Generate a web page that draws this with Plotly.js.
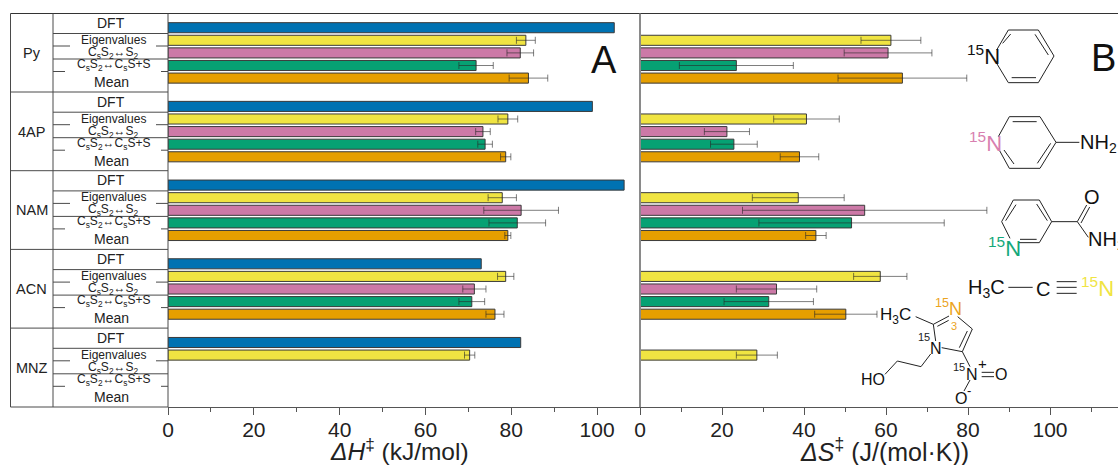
<!DOCTYPE html>
<html><head><meta charset="utf-8">
<script src="https://cdn.plot.ly/plotly-3.0.1.min.js"></script>
<style>html,body{margin:0;padding:0;background:#fff}#c{width:1118px;height:465px}</style></head>
<body><div id="c"></div>
<script>
const groups = ['Py','4AP','NAM','ACN','MNZ'];
const methods = ['DFT','Eigenvalues','C<sub>s</sub>S<sub>2</sub>↔S<sub>2</sub>','C<sub>s</sub>S<sub>2</sub>↔C<sub>s</sub>S+S','Mean'];
const colors = ['#0072b2','#f0e442','#cc79a7','#06a173','#e69f00'];

const enthalpyDFT = [104.0, 98.9, 106.3, 73.0, 82.2];
const enthalpyEig = [83.4, 79.2, 77.9, 78.7, 70.3];
const enthalpyS2  = [82.1, 73.4, 82.3, 71.4, null];
const enthalpyS   = [71.8, 73.9, 81.4, 70.8, null];
const enthalpyMean= [84.0, 78.7, 79.2, 76.2, null];
const enthalpyEigErr = [2.2, 2.3, 3.3, 1.9, 1.2];
const enthalpyS2Err  = [3.1, 1.7, 8.7, 2.7, null];
const enthalpySErr   = [4.0, 1.7, 6.6, 3.0, null];
const enthalpyMeanErr= [4.5, 1.2, 0.7, 2.1, null];

const entropyEig = [61.2, 40.6, 38.6, 58.6, 28.5];
const entropyS2  = [60.5, 21.2, 54.8, 33.3, null];
const entropyS   = [23.5, 22.9, 51.6, 31.4, null];
const entropyMean= [64.0, 38.9, 42.9, 50.2, null];
const entropyEigErr = [7.3, 8.0, 11.2, 6.5, 5.0];
const entropyS2Err  = [10.7, 5.5, 29.8, 9.8, null];
const entropySErr   = [13.9, 5.7, 22.6, 10.9, null];
const entropyMeanErr= [15.7, 4.7, 2.5, 7.6, null];

const W=1118,H=465,T=14,B=407,PANEL=640,LEFT=168;
const ROW=12.6, PERIOD=78.7/12.6, Y0=27.7;
const font='"Liberation Sans", Arial, sans-serif';
const yOf=r=>groups.map((_,g)=>g*PERIOD+r);
const px=x=>x/W, py=y=>(B-y)/(B-T);

function bar(vals,errs,m,second){
  const t={type:'bar',orientation:'h',x:vals,y:yOf(m),width:0.8,name:methods[m],showlegend:false,
    marker:{color:colors[m],line:{color:'#3a3a3a',width:1}},hoverinfo:'x'};
  if(errs) t.error_x={type:'data',array:errs,visible:true,color:'rgba(40,40,40,0.6)',thickness:1,width:3.5};
  if(second){t.xaxis='x2';t.yaxis='y';}
  return t;
}
const data=[
  bar(enthalpyDFT,null,0,false),
  bar(enthalpyEig,enthalpyEigErr,1,false),
  bar(enthalpyS2,enthalpyS2Err,2,false),
  bar(enthalpyS,enthalpySErr,3,false),
  bar(enthalpyMean,enthalpyMeanErr,4,false),
  bar(entropyEig,entropyEigErr,1,true),
  bar(entropyS2,entropyS2Err,2,true),
  bar(entropyS,entropySErr,3,true),
  bar(entropyMean,entropyMeanErr,4,true)
];

const shapes=[], annotations=[];
function seg(x0,y0,x1,y1,color,width){
  shapes.push({type:'line',xref:'paper',yref:'paper',x0:px(x0),y0:py(y0),x1:px(x1),y1:py(y1),
    line:{color:color||'#222',width:width||1},layer:'above'});
}
function txt(x,y,text,size,color,extra){
  annotations.push(Object.assign({xref:'paper',yref:'paper',x:px(x),y:py(y),text:text,showarrow:false,
    xanchor:'center',yanchor:'middle',font:{family:font,size:size,color:color||'#222'}},extra||{}));
}
const lineC='#4a4a4a';
seg(10.5,13.5,1118,13.5,'#333',1.2);
seg(10.5,13.5,10.5,407,lineC);
seg(53,13.5,53,407,lineC);
seg(168,13.5,168,407,lineC);
seg(PANEL,13.5,PANEL,407,'#8a8a8a',2);
seg(10.5,407,168,407,lineC);
groups.forEach((name,g)=>{
  const o=g*78.7;
  txt(31.5,53+o,name,14.5,'#222');
  if(g<4) seg(10.5,92+o,168,92+o,lineC);
  seg(53,33.5+o,168,33.5+o,lineC);
  seg(53,46+o,70,46+o,lineC); seg(156,46+o,168,46+o,lineC);
  seg(53,59+o,168,59+o,lineC);
  seg(53,71.5+o,65,71.5+o,lineC); seg(161,71.5+o,168,71.5+o,lineC);
  txt(111,23+o,methods[0],14);
  txt(113,40+o,methods[1],12);
  txt(113,53+o,methods[2],12);
  txt(113,65+o,methods[3],12);
  txt(111,82+o,methods[4],14);
});
txt(604,60,'A',38,'#111');
txt(1103,58,'B',38,'#111');
txt(399,450,'<i>ΔH</i><sup>‡</sup> (kJ/mol)',24.5,'#222');
txt(884,450,'<i>ΔS</i><sup>‡</sup> (J/(mol·K))',25,'#222');

const a=(x,y)=>[820+x/3,y/3], b=(x,y)=>[820+x/3,255+y/3];
function path(f,pts,c,w){for(let i=0;i<pts.length-1;i++){const p=f(...pts[i]),q=f(...pts[i+1]);seg(p[0],p[1],q[0],q[1],c||'#222',w||1);}}
function lab(f,x,y,t,s,c,extra){const p=f(x,y);txt(p[0],p[1],t,s,c,extra);}
const pink='#d87fb0',green='#14a87a',yellow='#f0e442',orange='#eba41e';
path(a,[[530,150],[565,90],[655,90],[702,168],[655,248],[565,248],[530,190]]);
path(a,[[548,130],[572,102]]);path(a,[[645,103],[685,165]]);path(a,[[575,233],[648,233]]);
lab(a,490,165,'<sup>15</sup>N',22,'#111');
path(a,[[535,410],[568,350],[660,350],[708,427],[660,505],[568,505],[535,445]]);
path(a,[[578,365],[650,365]]);path(a,[[652,490],[692,430]]);path(a,[[552,450],[582,492]]);
path(a,[[708,427],[778,427]]);
lab(a,497,427,'<sup>15</sup>N',22,pink);
lab(a,836,430,'NH<sub>2</sub>',20,'#111');
path(a,[[570,715],[545,665],[580,600],[658,600],[695,665],[658,728],[595,728]]);
path(a,[[557,662],[588,614]]);path(a,[[650,612],[682,662]]);path(a,[[600,718],[650,718]]);
path(a,[[695,665],[772,665]]);path(a,[[772,665],[800,615]]);path(a,[[783,669],[809,621]]);path(a,[[772,665],[805,712]]);
lab(a,817,591,'O',20,'#111');
lab(a,858,722,'NH<sub>2</sub>',20,'#111');
lab(a,553,742,'<sup>15</sup>N',22,green);
lab(b,500,100,'H<sub>3</sub>C',20,'#111');
path(b,[[565,97],[638,97]]);
lab(b,668,102,'C',20,'#111');
path(b,[[710,80],[770,80]]);path(b,[[710,97],[770,97]]);path(b,[[710,115],[770,115]]);
lab(b,833,97,'<sup>15</sup>N',22,yellow);
lab(b,225,182,'H<sub>3</sub>C',17,'#111');
path(b,[[287,185],[340,208],[387,183]]);
path(b,[[352,214],[386,196]]);
path(b,[[413,185],[457,222],[427,290],[365,278]]);
path(b,[[442,228],[418,278]]);
path(b,[[340,208],[347,258]]);
path(b,[[332,297],[303,335],[232,318],[195,358]]);
path(b,[[427,290],[450,335]]);
path(b,[[485,352],[522,352]]);path(b,[[485,365],[522,365]]);
path(b,[[450,375],[432,408]]);
lab(b,348,280,'N',16,'#111');
lab(b,313,245,'15',11,'#222');
lab(b,385,158,'<sup>15</sup>N',18,orange);
lab(b,402,213,'3',11,orange);
lab(b,158,373,'HO',16,'#111');
lab(b,455,357,'N',16,'#111');
lab(b,418,335,'15',11,'#222');
lab(b,487,325,'+',15,'#111');
lab(b,542,357,'O',16,'#111');
lab(b,423,430,'O',16,'#111');
lab(b,447,407,'-',13,'#111');

const xbase={tickmode:'linear',tick0:0,dtick:20,ticks:'outside',ticklen:7,tickwidth:1,tickcolor:'#555',
  minor:{dtick:10,ticks:'outside',ticklen:4,tickwidth:1,tickcolor:'#555'},
  showgrid:false,zeroline:false,showline:true,linecolor:'#555',linewidth:1,ticklabelstandoff:-3,
  tickfont:{family:font,size:21,color:'#222'},anchor:'y'};
const layout={
  width:W,height:H,margin:{l:0,r:0,t:T,b:H-B,pad:0},paper_bgcolor:'#fff',plot_bgcolor:'#fff',
  barmode:'overlay',showlegend:false,
  xaxis:Object.assign({},xbase,{domain:[LEFT/W,PANEL/W],range:[0,110]}),
  xaxis2:Object.assign({},xbase,{domain:[PANEL/W,1],range:[0,(W-PANEL)/4.1]}),
  yaxis:{domain:[0,1],range:[(B-Y0)/ROW,(T-Y0)/ROW],visible:false,fixedrange:true},
  shapes:shapes,annotations:annotations
};
Plotly.newPlot('c',data,layout,{displayModeBar:false,staticPlot:true});
</script></body></html>
